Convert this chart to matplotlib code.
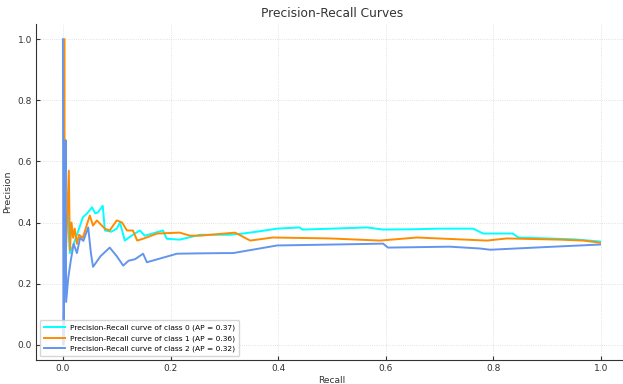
import matplotlib
matplotlib.use('Agg')
import matplotlib.pyplot as plt

# values (recall, precision)
recall_0 = [0.009, 0.011, 0.013, 0.020, 0.028, 0.037, 0.045, 0.054, 0.060, 0.065, 0.070, 0.074,
            0.078, 0.090, 0.100, 0.106, 0.115, 0.130, 0.143, 0.152, 0.170, 0.186, 0.193, 0.217,
            0.255, 0.31, 0.335, 0.36, 0.398, 0.44, 0.445, 0.50, 0.565, 0.595, 0.65, 0.70, 0.762,
            0.781, 0.836, 0.846, 0.90, 0.95, 0.998]
precision_0 = [0.43, 0.36, 0.30, 0.33, 0.37, 0.417, 0.43, 0.45, 0.43, 0.433, 0.445, 0.455,
               0.374, 0.37, 0.38, 0.40, 0.341, 0.36, 0.374, 0.357, 0.366, 0.374, 0.347, 0.344,
               0.36, 0.36, 0.364, 0.37, 0.38, 0.384, 0.377, 0.38, 0.384, 0.377, 0.378, 0.38, 0.38,
               0.364, 0.364, 0.351, 0.348, 0.345, 0.338]

recall_1 = [0.003, 0.003, 0.006, 0.011, 0.013, 0.016, 0.019, 0.022, 0.026, 0.030, 0.037, 0.044,
            0.050, 0.056, 0.063, 0.078, 0.087, 0.100, 0.110, 0.119, 0.130, 0.138, 0.149, 0.175,
            0.217, 0.236, 0.255, 0.32, 0.348, 0.39, 0.496, 0.589, 0.658, 0.788, 0.825, 0.924,
            0.967, 0.998]
precision_1 = [1.0, 0.30, 0.32, 0.57, 0.31, 0.40, 0.35, 0.38, 0.33, 0.36, 0.35, 0.39,
               0.423, 0.39, 0.407, 0.38, 0.374, 0.407, 0.40, 0.374, 0.374, 0.341, 0.347, 0.364,
               0.367, 0.357, 0.357, 0.367, 0.341, 0.351, 0.348, 0.341, 0.351, 0.341, 0.348, 0.344,
               0.341, 0.334]

recall_2 = [0.0, 0.001, 0.003, 0.005, 0.006, 0.010, 0.015, 0.020, 0.026, 0.032, 0.038, 0.047,
            0.052, 0.056, 0.070, 0.087, 0.100, 0.112, 0.122, 0.134, 0.149, 0.156, 0.186, 0.212,
            0.249, 0.30, 0.316, 0.398, 0.502, 0.595, 0.604, 0.719, 0.775, 0.794, 0.90, 0.998]
precision_2 = [1.0, 0.0, 0.25, 0.67, 0.14, 0.22, 0.28, 0.33, 0.30, 0.35, 0.34, 0.384,
               0.30, 0.255, 0.29, 0.318, 0.29, 0.259, 0.275, 0.28, 0.298, 0.27, 0.285, 0.298,
               0.299, 0.30, 0.30, 0.325, 0.328, 0.331, 0.318, 0.321, 0.315, 0.311, 0.32, 0.328]

ap_scores = [0.37, 0.36, 0.32]
colors = ['aqua', 'darkorange', 'cornflowerblue']
curves = [(recall_0, precision_0), (recall_1, precision_1), (recall_2, precision_2)]

fig = plt.figure(figsize=(6.23, 3.84), dpi=100)
ax = fig.add_axes([36/623, 24/384, 592/623, 336/384])

for i, (rec, prec) in enumerate(curves):
    ax.plot(rec, prec, color=colors[i], lw=1.4,
            label='Precision-Recall curve of class {} (AP = {:.2f})'.format(i, ap_scores[i]))

ax.set_xlim(-0.05, 1.05)
ax.set_ylim(-0.05, 1.05)
ax.set_xticks([0.0, 0.2, 0.4, 0.6, 0.8, 1.0])
ax.set_yticks([0.0, 0.2, 0.4, 0.6, 0.8, 1.0])
ax.set_xlabel('Recall', fontsize=6.5, labelpad=2, color='#333333')
ax.set_ylabel('Precision', fontsize=6.8, labelpad=4, color='#333333')
ax.set_title('Precision-Recall Curves', fontsize=8.8, color='#333333', pad=5)

ax.grid(True, linestyle=':', color='#d8d8d8', lw=0.6)
ax.spines['top'].set_visible(False)
ax.spines['right'].set_visible(False)
for s in ['left', 'bottom']:
    ax.spines[s].set_color('#333333')
ax.tick_params(direction='in', labelsize=6.5, colors='#333333', length=3, pad=3)

ax.legend(loc='lower left', fontsize=5.4, framealpha=0.8, handlelength=2.8,
          borderpad=0.5, labelspacing=0.55, bbox_to_anchor=(0.0, 0.0))

fig.savefig('out.png', dpi=100)
